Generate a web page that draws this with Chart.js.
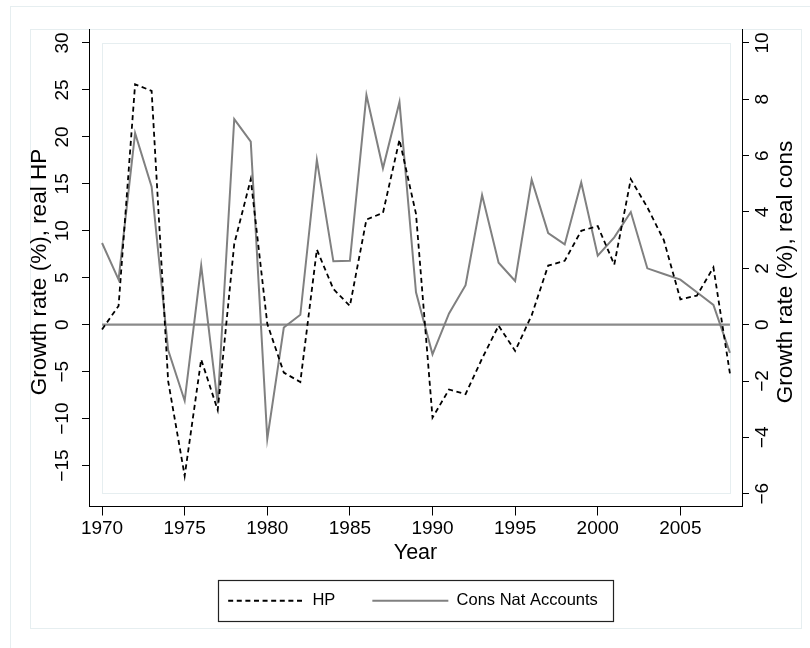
<!DOCTYPE html>
<html>
<head>
<meta charset="utf-8">
<script src="https://cdn.jsdelivr.net/npm/chart.js@4.4.1/dist/chart.umd.min.js"></script>
<style>
  html, body { margin: 0; padding: 0; background: #ffffff; }
  canvas { display: block; }
</style>
</head>
<body>
<canvas id="c" width="810" height="648"></canvas>
<script>
// ---- data ----
const years = [1970,1971,1972,1973,1974,1975,1976,1977,1978,1979,
               1980,1981,1982,1983,1984,1985,1986,1987,1988,1989,
               1990,1991,1992,1993,1994,1995,1996,1997,1998,1999,
               2000,2001,2002,2003,2004,2005,2006,2007,2008];
// Growth rate (%), real HP  (left axis)
const hpGrowth = [-0.5, 2.0, 25.6, 24.9, -6.0, -16.1, -3.7, -9.1, 8.6, 15.5,
                  0.1, -5.1, -6.1, 8.0, 3.8, 2.0, 11.2, 11.9, 19.7, 11.8,
                  -9.9, -6.9, -7.4, -3.6, -0.1, -2.8, 1.0, 6.3, 6.8, 10.0,
                  10.5, 6.4, 15.5, 12.5, 9.0, 2.7, 3.1, 6.1, -5.2];
// Growth rate (%), real cons (right axis)
const consGrowth = [2.9, 1.6, 6.8, 4.9, -0.9, -2.7, 2.1, -2.8, 7.3, 6.5,
                    -4.05, -0.1, 0.35, 5.85, 2.25, 2.27, 8.15, 5.55, 7.9, 1.15,
                    -1.05, 0.4, 1.4, 4.6, 2.2, 1.55, 5.15, 3.25, 2.85, 5.05,
                    2.45, 3.1, 4.0, 2.0, 1.8, 1.6, 1.15, 0.7, -1.0];
const zeroLine = years.map(() => 0);

const xTicks = [1970, 1975, 1980, 1985, 1990, 1995, 2000, 2005];
const leftTicks = [30, 25, 20, 15, 10, 5, 0, -5, -10, -15];
const rightTicks = [10, 8, 6, 4, 2, 0, -2, -4, -6];

const seriesNames = ['HP', 'Cons Nat Accounts'];
const axisTitles = { x: 'Year', left: 'Growth rate (%), real HP', right: 'Growth rate (%), real cons' };

// ---- styling ----
const FONT = "'Liberation Sans', Arial, Helvetica, sans-serif";
const PALE = '#e6eef0';
const fmt = v => String(v).replace('-', '\u2212');
const setTicks = arr => scale => { scale.ticks = arr.map(v => ({ value: v })); };

const decor = {
  id: 'decor',
  beforeDraw(chart) {
    const ctx = chart.ctx;
    ctx.save();
    ctx.fillStyle = '#ffffff';
    ctx.fillRect(0, 0, chart.width, chart.height);
    ctx.strokeStyle = PALE;
    ctx.lineWidth = 1;
    ctx.strokeRect(10.5, 6.5, 900, 900);
    ctx.strokeRect(30.5, 29.5, 771, 599);
    // plot region outline
    const xs = chart.scales.x, yl = chart.scales.y;
    const l = Math.round(xs.getPixelForValue(years[0])) + 0.5;
    const r = Math.round(xs.getPixelForValue(years[years.length - 1])) + 0.5;
    const t = Math.round(yl.getPixelForValue(30)) + 0.5;
    const b = Math.round(chart.scales.y2.getPixelForValue(-6)) - 0.5;
    ctx.strokeRect(l, t, r - l, b - t);
    ctx.restore();
  },
  afterDraw(chart) {
    const ctx = chart.ctx;
    const cy = 272;
    // y-axis titles (both read bottom-to-top like the reference)
    [[40, axisTitles.left], [786, axisTitles.right]].forEach(([x, txt]) => {
      ctx.save();
      ctx.font = '22.5px ' + FONT;
      ctx.fillStyle = '#000';
      ctx.textAlign = 'center';
      ctx.textBaseline = 'middle';
      ctx.translate(x, cy);
      ctx.rotate(-Math.PI / 2);
      ctx.fillText(txt, 0, 0);
      ctx.restore();
    });
    // legend frame
    const hb = chart.legend.legendHitBoxes;
    if (hb && hb.length) {
      const first = hb[0], last = hb[hb.length - 1];
      const mid = first.top + first.height / 2;
      const x0 = Math.round(first.left - 10) + 0.5;
      const x1 = Math.round(last.left + last.width + 15) + 0.5;
      ctx.save();
      ctx.strokeStyle = '#222';
      ctx.lineWidth = 1.2;
      ctx.strokeRect(x0, Math.round(mid - 21) + 0.5, x1 - x0, 41);
      ctx.restore();
    }
  }
};

const baseLabels = Chart.defaults.plugins.legend.labels.generateLabels;

new Chart(document.getElementById('c'), {
  type: 'line',
  data: {
    datasets: [
      {
        label: seriesNames[0],
        data: years.map((y, i) => ({ x: y, y: hpGrowth[i] })),
        yAxisID: 'y',
        borderColor: '#000000',
        backgroundColor: '#000000',
        borderWidth: 1.8,
        borderDash: [5, 3.6],
        pointRadius: 0,
        tension: 0,
        order: 0
      },
      {
        label: seriesNames[1],
        data: years.map((y, i) => ({ x: y, y: consGrowth[i] })),
        yAxisID: 'y2',
        borderColor: '#808080',
        backgroundColor: '#808080',
        borderWidth: 2,
        pointRadius: 0,
        tension: 0,
        order: 1
      },
      {
        label: 'zero',
        data: years.map((y, i) => ({ x: y, y: zeroLine[i] })),
        yAxisID: 'y2',
        borderColor: '#8a8a8a',
        borderWidth: 2.2,
        pointRadius: 0,
        tension: 0,
        order: 2
      }
    ]
  },
  options: {
    responsive: false,
    animation: false,
    devicePixelRatio: 1,
    layout: { padding: { top: 29, left: 16, right: 0, bottom: 29 } },
    plugins: {
      tooltip: { enabled: false },
      legend: {
        position: 'bottom',
        labels: {
          filter: item => item.text !== 'zero',
          generateLabels: chart => baseLabels(chart).map(item => {
            const ds = chart.data.datasets[item.datasetIndex];
            item.lineDash = ds.borderDash || [];
            item.lineWidth = ds.borderWidth;
            item.strokeStyle = ds.borderColor;
            return item;
          }),
          usePointStyle: true,
          pointStyle: 'line',
          pointStyleWidth: 76,
          boxHeight: 16,
          padding: 37,
          color: '#000',
          font: { family: FONT, size: 16.5 }
        }
      }
    },
    scales: {
      x: {
        type: 'linear',
        min: 1969.21,
        max: 2008.73,
        afterBuildTicks: setTicks(xTicks),
        afterFit: s => { s.height = 49; },
        border: { display: true, color: '#000', width: 1 },
        grid: { drawOnChartArea: false, drawTicks: true, tickLength: 9, color: '#000' },
        ticks: { color: '#000', font: { family: FONT, size: 19 }, padding: 2, maxRotation: 0, autoSkip: false, callback: v => String(v) },
        title: { display: true, text: axisTitles.x, color: '#000', font: { family: FONT, size: 21.5 }, padding: { top: 0, bottom: -10 } }
      },
      y: {
        position: 'left',
        min: -19.36,
        max: 31.49,
        afterBuildTicks: setTicks(leftTicks),
        afterFit: s => { s.width = 73; },
        border: { display: true, color: '#000', width: 1 },
        grid: { drawOnChartArea: false, drawTicks: true, tickLength: 7, color: '#000' },
        ticks: { color: '#000', font: { family: FONT, size: 19 }, padding: 3, minRotation: 90, maxRotation: 90, crossAlign: 'center', autoSkip: false, callback: fmt }
      },
      y2: {
        position: 'right',
        min: -6.454,
        max: 10.496,
        afterBuildTicks: setTicks(rightTicks),
        afterFit: s => { s.width = 68; },
        border: { display: true, color: '#000', width: 1 },
        grid: { drawOnChartArea: false, drawTicks: true, tickLength: 7, color: '#000' },
        ticks: { color: '#000', font: { family: FONT, size: 19 }, padding: 3, minRotation: 90, maxRotation: 90, crossAlign: 'center', autoSkip: false, callback: fmt }
      }
    }
  },
  plugins: [decor]
});
</script>
</body>
</html>
